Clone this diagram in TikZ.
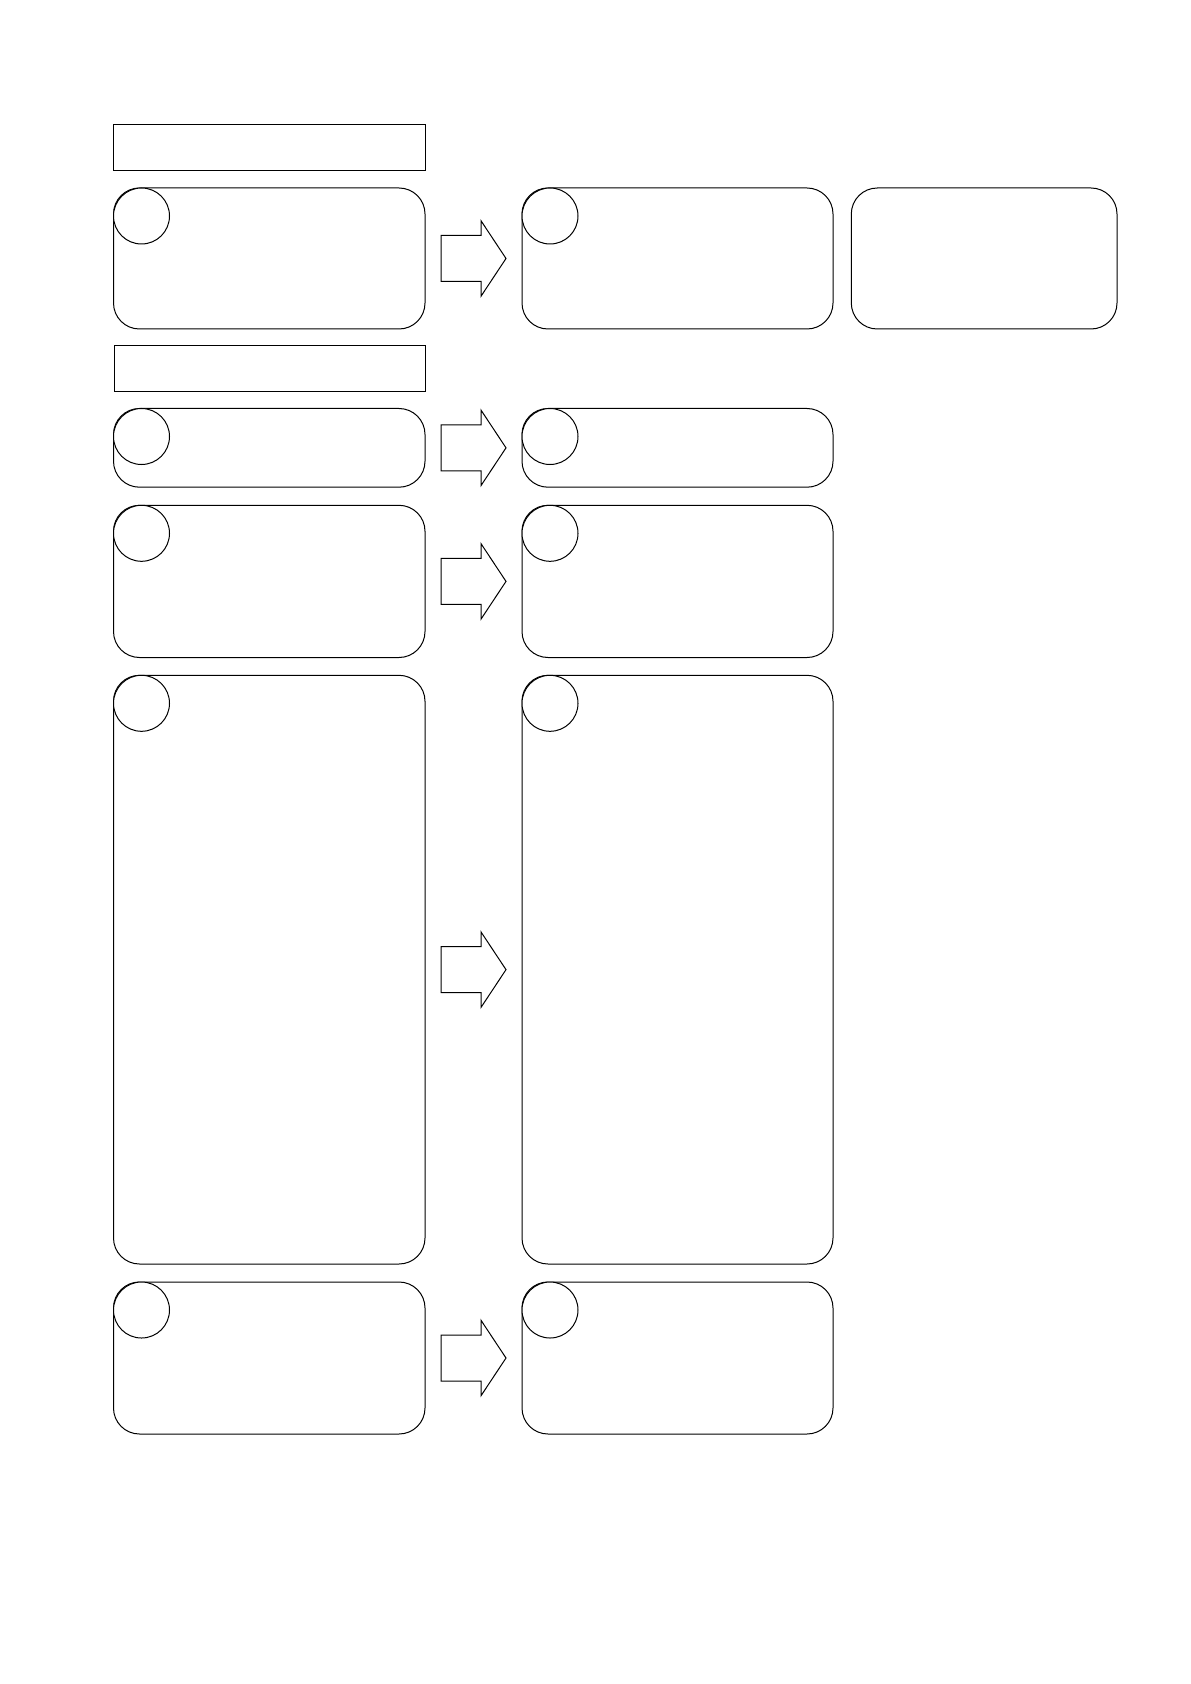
\documentclass[tikz,border=0pt]{standalone}
\usetikzlibrary{calc}

\tikzset{
  titlebox/.style={draw, line width=0.5pt, inner sep=0pt, outer sep=0pt, anchor=north west},
  stepcard/.style={draw, line width=0.5pt, rounded corners=13pt, inner sep=0pt, outer sep=0pt, anchor=north west},
  badge/.style={draw, fill=white, circle, line width=0.5pt, minimum size=28pt, inner sep=0pt},
  bigarrow/.pic={
    \draw [line width=0.5pt] (-32.5,-23) -- (7.5,-23) -- (7.5,-37.75) -- (32.5,0) -- (7.5,37.75) -- (7.5,23) -- (-32.5,23) -- cycle;
  }
}

\begin{document}
\begin{tikzpicture}[x=0.5pt,y=0.5pt,yscale=-1,xscale=1]
\useasboundingbox (0,0) rectangle (1190,1684);

% section headers
\node [titlebox, minimum width=155.75pt, minimum height=23pt] (head1) at (113.5,125) {};
\node [titlebox, minimum width=155.75pt, minimum height=22.65pt] (head2) at (114,346) {};

% row 1
\node [stepcard, minimum width=155.75pt, minimum height=70.5pt] (a1) at (113.5,188) {};
\node [stepcard, minimum width=155.5pt, minimum height=70.5pt] (b1) at (522,188) {};
\node [stepcard, minimum width=132.85pt, minimum height=70.5pt] (c1) at (851.3,188) {};

% row 2
\node [stepcard, minimum width=155.75pt, minimum height=39.35pt] (a2) at (113.5,408.5) {};
\node [stepcard, minimum width=155.5pt, minimum height=39.35pt] (b2) at (522,408.5) {};

% row 3
\node [stepcard, minimum width=155.75pt, minimum height=76.1pt] (a3) at (113.5,505.3) {};
\node [stepcard, minimum width=155.5pt, minimum height=76.1pt] (b3) at (522,505.3) {};

% row 4
\node [stepcard, minimum width=155.75pt, minimum height=294.35pt] (a4) at (113.5,675.3) {};
\node [stepcard, minimum width=155.5pt, minimum height=294.35pt] (b4) at (522,675.3) {};

% row 5
\node [stepcard, minimum width=155.75pt, minimum height=76pt] (a5) at (113.5,1282) {};
\node [stepcard, minimum width=155.5pt, minimum height=76pt] (b5) at (522,1282) {};

% number badges
\foreach \card in {a1,b1,a2,b2,a3,b3,a4,b4,a5,b5}
  \node [badge] (dot-\card) at ($(\card.north west)+(28,28)$) {};

% arrows
\foreach \row in {1,...,5}
  \pic at ($(a\row.east)!0.5!(b\row.west)$) {bigarrow};

\end{tikzpicture}
\end{document}
